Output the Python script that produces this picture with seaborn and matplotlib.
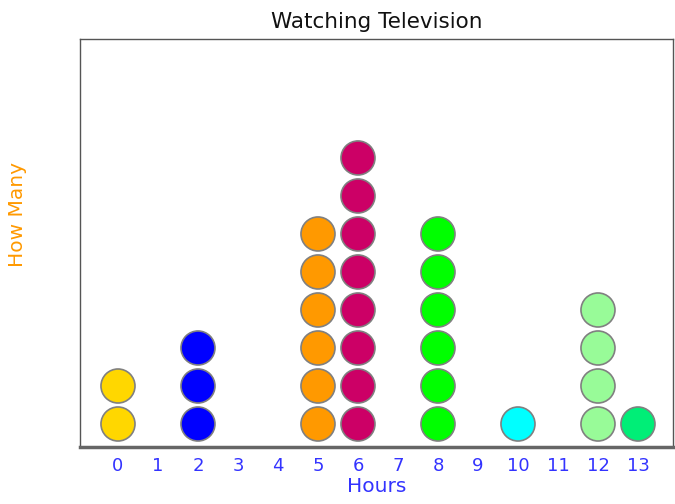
import matplotlib
matplotlib.use("Agg")
import matplotlib.pyplot as plt
import seaborn as sns
import pandas as pd

# Hours watched and how many people reported each
hours = [0, 2, 5, 6, 8, 10, 12, 13]
counts = [2, 3, 6, 8, 6, 1, 4, 1]
dot_colors = ["#FFD700", "#0000FF", "#FF9900", "#CC0066", "#00FF00", "#00FFFF", "#98FB98", "#00EE77"]
tick_hours = list(range(0, 14))

# One row per dot, stacked upward
rows = []
for h, c in zip(hours, counts):
    for level in range(1, c + 1):
        rows.append({"hour": h, "level": level})
df = pd.DataFrame(rows)

sns.set_style("white")
fig = plt.figure(figsize=(6.75, 5.04), dpi=100)
ax = fig.add_axes([0.1185, 0.1131, 0.8785, 0.8095])

palette = dict(zip(hours, dot_colors))
sns.scatterplot(data=df, x="hour", y="level", hue="hour", palette=palette,
                s=600, edgecolor="#808080", linewidth=1.2, legend=False, ax=ax, zorder=3)

ax.set_xlim(-0.95, 13.875)
ax.set_ylim(0.395, 11.13)
ax.set_xticks(tick_hours)
ax.set_xticklabels([str(t) for t in tick_hours], color="#3333FF", fontsize=13)
ax.set_yticks([])
ax.tick_params(axis="x", length=0, pad=7)

for side in ["left", "top", "right"]:
    ax.spines[side].set_color("#555555")
    ax.spines[side].set_linewidth(1.0)
ax.spines["bottom"].set_color("#666666")
ax.spines["bottom"].set_linewidth(2.5)

ax.set_title("Watching Television", fontsize=15.5, color="#111111", pad=8)
ax.set_xlabel("Hours", color="#3333FF", fontsize=14.5, labelpad=2)
ax.set_ylabel("How Many", color="#FF9900", fontsize=14.5)
ax.yaxis.set_label_coords(-0.089, 0.569)

plt.savefig("out.png", dpi=100)
plt.close()
